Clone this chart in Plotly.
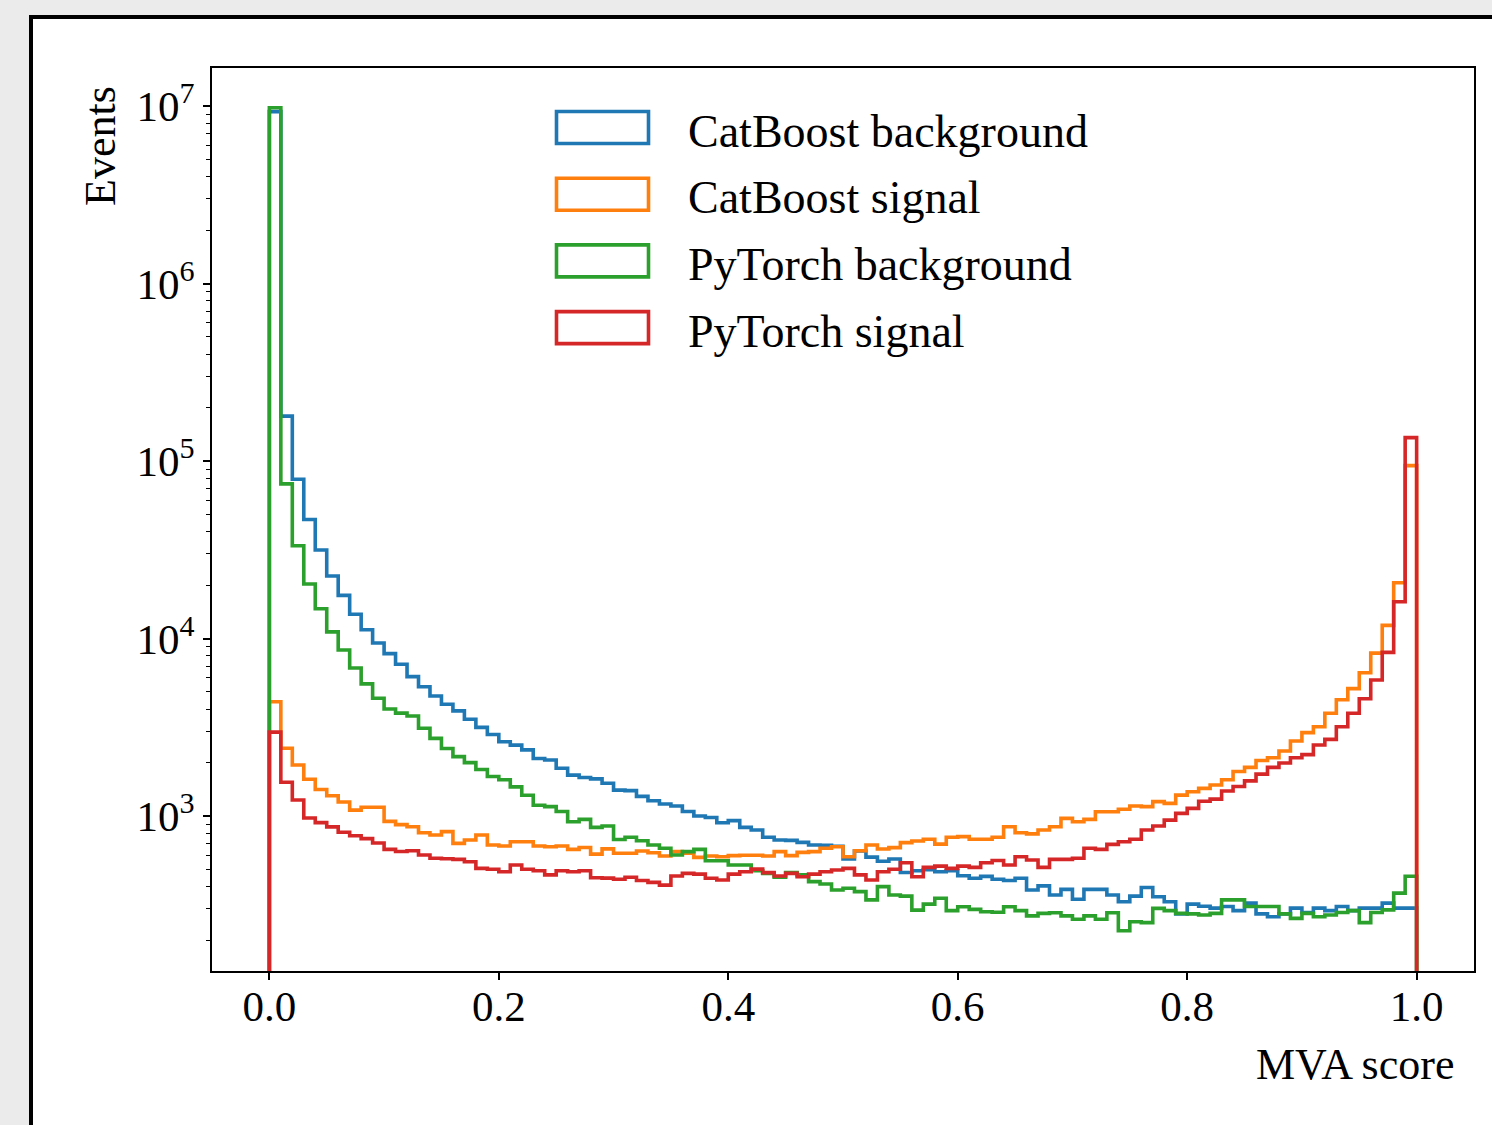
import numpy as np
import plotly.graph_objects as go

# ---------------- data ----------------
bin_edges = np.linspace(0.0, 1.0, 101)

catboost_background = [
    9300000, 179000, 78900, 46800, 31500, 22500, 17500, 13700, 11200, 9440,
    8220, 7160, 6100, 5350, 4740, 4260, 3910, 3510, 3160, 2880,
    2620, 2510, 2360, 2110, 2070, 1860, 1700, 1650, 1620, 1530,
    1400, 1390, 1290, 1220, 1170, 1140, 1060, 1000, 982, 916,
    942, 863, 834, 759, 733, 729, 711, 687, 685, 676,
    573, 635, 587, 556, 573, 481, 492, 498, 485, 492,
    461, 446, 457, 440, 433, 446, 383, 404, 359, 386,
    340, 386, 386, 359, 329, 354, 396, 351, 329, 281,
    319, 310, 303, 309, 293, 323, 281, 271, 281, 303,
    286, 303, 293, 309, 293, 303, 303, 323, 303, 303,
]

catboost_signal = [
    4400, 2410, 1940, 1610, 1410, 1300, 1200, 1080, 1120, 1120,
    933, 895, 871, 805, 782, 817, 701, 733, 782, 687,
    678, 716, 716, 678, 671, 678, 649, 665, 610, 653,
    617, 617, 635, 621, 596, 630, 617, 585, 596, 590,
    598, 601, 601, 596, 630, 598, 624, 630, 658, 671,
    590, 638, 687, 652, 664, 708, 723, 740, 695, 759,
    766, 740, 740, 759, 871, 805, 793, 834, 871, 970,
    929, 957, 1057, 1057, 1091, 1138, 1130, 1205, 1178, 1312,
    1371, 1432, 1496, 1600, 1782, 1879, 2056, 2128, 2323, 2649,
    2951, 3184, 3793, 4519, 5224, 6412, 8279, 11858, 20606, 94189,
]

pytorch_background = [
    9770000, 74300, 33300, 20300, 14700, 10900, 8610, 6820, 5550, 4610,
    4010, 3800, 3660, 3120, 2740, 2400, 2160, 2000, 1830, 1670,
    1600, 1460, 1310, 1150, 1130, 1060, 929, 957, 863, 879,
    738, 759, 726, 687, 658, 603, 630, 649, 560, 560,
    530, 530, 492, 475, 452, 480, 466, 427, 414, 383,
    392, 375, 337, 400, 359, 354, 295, 319, 344, 293,
    308, 298, 289, 287, 308, 293, 274, 283, 285, 274,
    262, 274, 262, 285, 226, 254, 251, 302, 293, 283,
    281, 277, 283, 337, 337, 309, 309, 309, 281, 265,
    283, 271, 277, 286, 293, 251, 286, 296, 368, 458,
]

pytorch_signal = [
    2970, 1550, 1230, 975, 918, 869, 811, 774, 746, 705,
    649, 631, 638, 603, 578, 575, 570, 553, 507, 501,
    485, 530, 501, 492, 466, 492, 485, 492, 449, 447,
    440, 452, 433, 423, 408, 459, 475, 471, 446, 436,
    471, 485, 502, 480, 459, 475, 455, 471, 485, 497,
    507, 466, 436, 485, 501, 546, 455, 514, 522, 507,
    522, 514, 546, 562, 530, 590, 565, 514, 570, 570,
    578, 658, 649, 692, 716, 740, 834, 879, 948, 1035,
    1104, 1211, 1245, 1384, 1466, 1578, 1722, 1879, 1991, 2128,
    2218, 2512, 2704, 3184, 3793, 4581, 5834, 8356, 16106, 135500,
]

series_names = ["CatBoost background", "CatBoost signal",
                "PyTorch background", "PyTorch signal"]
series_colors = ["#1f77b4", "#ff7f0e", "#2ca02c", "#d62728"]
series_counts = [catboost_background, catboost_signal,
                 pytorch_background, pytorch_signal]

x_tick_values = [0.0, 0.2, 0.4, 0.6, 0.8, 1.0]
y_tick_exponents = [3, 4, 5, 6, 7]

# ---------------- figure ----------------
W, H = 1492, 1125
L, R, T, B = 212, 18, 68, 154
PW, PH = W - L - R, H - T - B


def px_to_paper_x(px):
    return (px - L) / PW


def px_to_paper_y(py):
    return (H - B - py) / PH


FONT = "Liberation Serif, Times New Roman, serif"
FLOOR = 1.0  # histogram steps start from "zero" (below the log axis)

fig = go.Figure()
for name, color, counts in zip(series_names, series_colors, series_counts):
    xs = [bin_edges[0]] + list(bin_edges[:-1]) + [bin_edges[-1]]
    ys = [FLOOR] + list(counts) + [FLOOR]
    fig.add_trace(go.Scatter(
        x=xs, y=ys, mode="lines", name=name, showlegend=False,
        line=dict(color=color, width=3.6, shape="hv"),
        hoverinfo="skip",
    ))

minor_vals = [m * 10 ** e for e in range(2, 7) for m in range(2, 10)]

fig.update_layout(
    width=W, height=H, autosize=False,
    margin=dict(l=L, r=R, t=T, b=B, pad=0),
    paper_bgcolor="#ebebeb",
    plot_bgcolor="white",
    font=dict(family=FONT, size=43, color="black"),
    xaxis=dict(
        range=[-0.05, 1.05], tickvals=x_tick_values, tickformat=".1f",
        ticks="outside", ticklen=7, tickwidth=1.6, tickcolor="black",
        ticklabelstandoff=-10,
        showline=True, linecolor="black", linewidth=1.6, mirror=True,
        showgrid=False, zeroline=False,
        tickfont=dict(family=FONT, size=43, color="black"),
    ),
    yaxis=dict(
        type="log", range=[2.127, 7.214],
        tickvals=[10 ** e for e in y_tick_exponents],
        ticktext=["10<sup>%d</sup>" % e for e in y_tick_exponents],
        ticks="outside", ticklen=7, tickwidth=1.6, tickcolor="black",
        minor=dict(tickvals=minor_vals, ticks="outside", ticklen=4,
                   tickwidth=1.3, tickcolor="black", showgrid=False),
        showline=True, linecolor="black", linewidth=1.6, mirror=True,
        showgrid=False, zeroline=False,
        tickfont=dict(family=FONT, size=43, color="black"),
    ),
)

# outer frame (white sheet with black border on grey page)
fig.add_shape(type="rect", xref="paper", yref="paper",
              x0=px_to_paper_x(31), x1=px_to_paper_x(1530),
              y0=px_to_paper_y(1140), y1=px_to_paper_y(17),
              line=dict(color="black", width=4), fillcolor="white",
              layer="below")

# axis titles
fig.add_annotation(text="Events", xref="paper", yref="paper",
                   x=px_to_paper_x(100), y=px_to_paper_y(146),
                   xanchor="center", yanchor="middle", textangle=-90,
                   showarrow=False, font=dict(family=FONT, size=44, color="black"))
fig.add_annotation(text="MVA score", xref="paper", yref="paper",
                   x=px_to_paper_x(1355), y=px_to_paper_y(1064),
                   xanchor="center", yanchor="middle",
                   showarrow=False, font=dict(family=FONT, size=44, color="black"))

# legend (unfilled patches + labels)
for i, (name, color) in enumerate(zip(series_names, series_colors)):
    top = 111.5 + 66.7 * i
    bot = 143.5 + 66.7 * i
    fig.add_shape(type="rect", xref="paper", yref="paper",
                  x0=px_to_paper_x(556.5), x1=px_to_paper_x(648.5),
                  y0=px_to_paper_y(bot), y1=px_to_paper_y(top),
                  line=dict(color=color, width=3.6), fillcolor="rgba(0,0,0,0)")
    fig.add_annotation(text=name, xref="paper", yref="paper",
                       x=px_to_paper_x(686), y=px_to_paper_y(131 + 66.7 * i),
                       xanchor="left", yanchor="middle", showarrow=False,
                       font=dict(family=FONT, size=46, color="black"))

fig.write_html("out.html")
